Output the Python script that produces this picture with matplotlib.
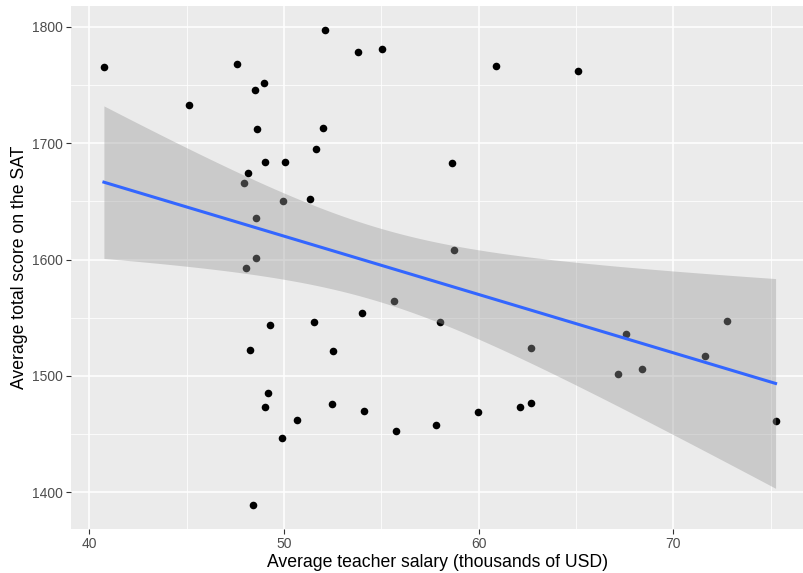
import numpy as np
import matplotlib
matplotlib.use("Agg")
import matplotlib.pyplot as plt

# average teacher salary (thousands of USD) and average total SAT score per state
salary = [40.75, 45.1, 47.57, 48.53, 48.99, 48.6, 49.04, 50.07, 48.17, 47.93,
          49.95, 48.56, 48.58, 48.03, 52.1, 53.82, 55.05, 60.87, 65.12, 52.0,
          51.66, 58.64, 51.34, 58.75, 49.3, 48.24, 49.18, 49.04, 50.65, 49.88,
          48.41, 51.52, 54.0, 55.65, 58.0, 62.67, 52.5, 52.47, 54.11, 55.75,
          57.81, 59.95, 62.12, 62.69, 67.58, 67.17, 68.4, 71.62, 72.77, 75.25]
sat = [1765, 1733, 1768, 1746, 1752, 1712, 1684, 1684, 1674, 1666,
       1650, 1636, 1601, 1593, 1797, 1778, 1781, 1766, 1762, 1713,
       1695, 1683, 1652, 1608, 1544, 1522, 1485, 1473, 1462, 1447,
       1389, 1546, 1554, 1564, 1546, 1524, 1521, 1476, 1470, 1453,
       1458, 1469, 1473, 1477, 1536, 1502, 1506, 1517, 1547, 1461]

x_ticks = [40, 50, 60, 70]
y_ticks = [1400, 1500, 1600, 1700, 1800]
x_minor = [45, 55, 65, 75]
y_minor = [1450, 1550, 1650, 1750]

x = np.array(salary)
y = np.array(sat)

# linear fit with 95% confidence band (like geom_smooth(method = "lm"))
n = len(x)
b1, b0 = np.polyfit(x, y, 1)
xs = np.linspace(x.min(), x.max(), 80)
ys = b0 + b1 * xs
resid = y - (b0 + b1 * x)
s = np.sqrt(np.sum(resid ** 2) / (n - 2))
sxx = np.sum((x - x.mean()) ** 2)
se = s * np.sqrt(1.0 / n + (xs - x.mean()) ** 2 / sxx)
tval = 2.0106  # t(0.975, df=48)
lo = ys - tval * se
hi = ys + tval * se

plt.rcParams['font.family'] = ['Liberation Sans', 'DejaVu Sans']

fig = plt.figure(figsize=(8.04, 5.73), dpi=100)
ax = fig.add_axes([71 / 804, (573 - 529.3) / 573, (804 - 71) / 804, (529.3 - 6) / 573])
ax.set_facecolor('#EBEBEB')

ax.set_xlim(39.06, 76.71)
ax.set_ylim(1368.2, 1817.8)

for v in x_minor:
    ax.axvline(v, color='white', lw=0.55, zorder=0)
for v in y_minor:
    ax.axhline(v, color='white', lw=0.55, zorder=0)
for v in x_ticks:
    ax.axvline(v, color='white', lw=1.1, zorder=0)
for v in y_ticks:
    ax.axhline(v, color='white', lw=1.1, zorder=0)

ax.scatter(x, y, s=30, color='black', linewidths=0, zorder=2)
ax.fill_between(xs, lo, hi, color='#999999', alpha=0.4, linewidth=0, zorder=3)
ax.plot(xs, ys, color='#3366FF', lw=2.2, zorder=4)

ax.set_xticks(x_ticks)
ax.set_yticks(y_ticks)
ax.tick_params(axis='both', length=3.5, width=0.8, color='#333333',
               labelcolor='#4D4D4D', labelsize=10, pad=2)
for sp in ax.spines.values():
    sp.set_visible(False)

ax.set_xlabel('Average teacher salary (thousands of USD)', fontsize=12.7, color='black', labelpad=2)
ax.set_ylabel('Average total score on the SAT', fontsize=12.7, color='black', labelpad=3)

fig.savefig('out.png', dpi=100)
